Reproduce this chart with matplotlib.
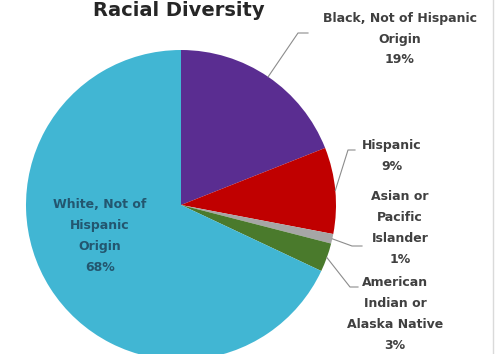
import numpy as np
import matplotlib
matplotlib.use('Agg')
from matplotlib import pyplot as plt

# data
groups = ['Black, Not of Hispanic\nOrigin', 'Hispanic', 'Asian or\nPacific\nIslander',
          'American\nIndian or\nAlaska Native', 'White, Not of\nHispanic\nOrigin']
shares = [19, 9, 1, 3, 68]
colors = ['#5A2D91', '#C00000', '#A6A6A6', '#4A7A2C', '#41B6D3']

W, H = 498, 354
cx, cy, R = 181, 205, 155  # pie centre / radius in pixels


def px2d(px, py):
    return (px - cx) / R, (cy - py) / R


fig = plt.figure(figsize=(W / 100, H / 100), dpi=100)
ax = fig.add_axes([0, 0, 1, 1])
wedges, _ = ax.pie(shares, colors=colors, startangle=90, counterclock=False, radius=1,
                   wedgeprops=dict(linewidth=0))
x0, y0 = px2d(0, H)
x1, y1 = px2d(W, 0)
ax.set_xlim(x0, x1)
ax.set_ylim(y0, y1)
ax.set_aspect('auto')
ax.axis('off')

txt = '#404040'
fs = 9
ls = 1.78
# label block centres (pixels) and leader elbow / end points
labels_pos = [(400, 39), (392, 156), (400, 228), (395, 314)]
elbows = [((298, 33), (308, 33)), ((348, 150), (355, 150)),
          ((352, 246), (362, 246)), ((350, 287), (358, 287))]

for i in range(4):
    w = wedges[i]
    mid = np.deg2rad((w.theta1 + w.theta2) / 2)
    sx, sy = np.cos(mid), np.sin(mid)
    (ex, ey), (fx, fy) = elbows[i]
    e = px2d(ex, ey)
    f = px2d(fx, fy)
    ax.plot([sx, e[0], f[0]], [sy, e[1], f[1]], color='#8C8C8C', lw=0.8)
    lx, ly = px2d(*labels_pos[i])
    ax.text(lx, ly, '%s\n%d%%' % (groups[i], shares[i]), ha='center', va='center',
            fontsize=fs, fontweight='bold', color=txt, linespacing=ls)

lx, ly = px2d(100, 236)
ax.text(lx, ly, '%s\n%d%%' % (groups[4], shares[4]), ha='center', va='center',
        fontsize=fs, fontweight='bold', color='#23566F', linespacing=ls)

# title (sits right at the top edge in the original)
tx, ty = px2d(179, 15.5)
ax.text(tx, ty, 'Racial Diversity', ha='center', va='baseline', fontsize=14,
        fontweight='bold', color='#262626')

# faint frame edge on the right
bx, _ = px2d(493, 0)
ax.plot([bx, bx], [y0, y1], color='#DADADA', lw=1)

fig.savefig('out.png', dpi=100)
